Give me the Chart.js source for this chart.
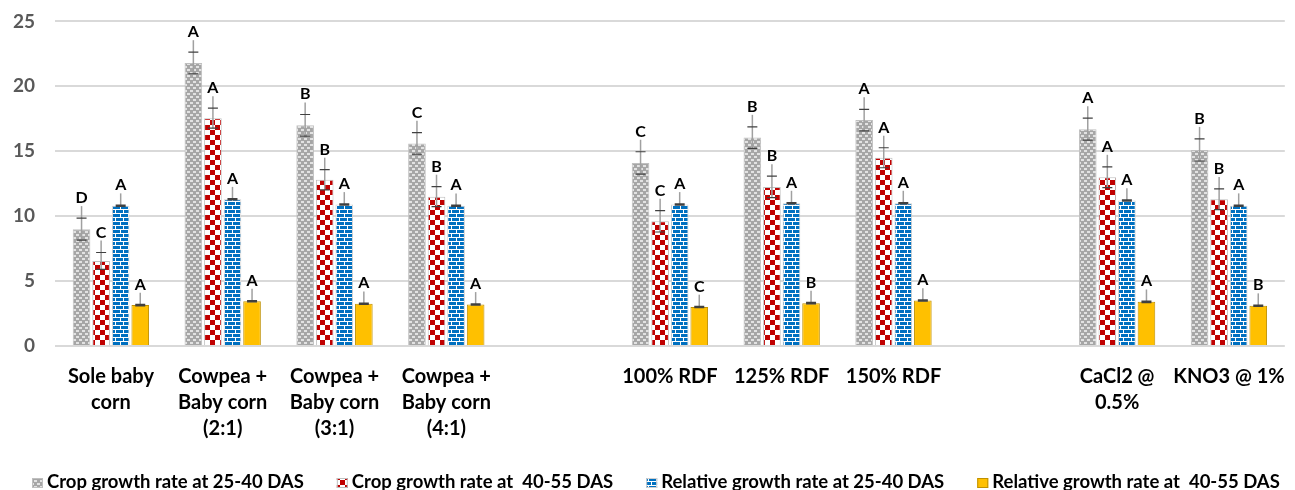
<!DOCTYPE html>
<html>
<head>
<meta charset="utf-8">
<script src="https://cdn.jsdelivr.net/npm/chart.js@4/dist/chart.umd.min.js"></script>
<style>
  html, body { margin: 0; padding: 0; background: #fff; overflow: hidden; }
  #wrap { width: 1295px; height: 490px; overflow: hidden; }
  #growthChart { display: block; margin-top: -10px; }
</style>
</head>
<body>
<div id="wrap"><canvas id="growthChart" width="1295" height="510"></canvas></div>
<script>
const categories = [
  ['Sole baby', 'corn'],
  ['Cowpea +', 'Baby corn', '(2:1)'],
  ['Cowpea +', 'Baby corn', '(3:1)'],
  ['Cowpea +', 'Baby corn', '(4:1)'],
  '',
  '100% RDF',
  '125% RDF',
  '150% RDF',
  '',
  ['CaCl2 @', '0.5%'],
  'KNO3 @ 1%',
];

const seriesNames = [
  'Crop growth rate at 25-40 DAS',
  'Crop growth rate at  40-55 DAS',
  'Relative growth rate at 25-40 DAS',
  'Relative growth rate at  40-55 DAS',
];

const cgrEarly = [9.0, 21.8, 17.0, 15.6, null, 14.1, 16.05, 17.4, null, 16.7, 15.1];
const cgrLate  = [6.55, 17.55, 12.8, 11.5, null, 9.6, 12.25, 14.5, null, 13.0, 11.3];
const rgrEarly = [10.8, 11.3, 10.9, 10.8, null, 10.9, 11.0, 11.0, null, 11.2, 10.8];
const rgrLate  = [3.15, 3.45, 3.25, 3.2, null, 3.0, 3.3, 3.5, null, 3.4, 3.1];

const cgrEarlyErr = [0.85, 0.83, 0.83, 0.83, null, 0.86, 0.83, 0.83, null, 0.85, 0.85];
const cgrLateErr  = [0.65, 0.77, 0.78, 0.77, null, 0.82, 0.83, 0.77, null, 0.8, 0.8];
const rgrEarlyErr = [0.03, 0.03, 0.03, 0.03, null, 0.03, 0.03, 0.03, null, 0.03, 0.03];
const rgrLateErr  = [0.03, 0.03, 0.03, 0.03, null, 0.03, 0.03, 0.03, null, 0.03, 0.03];

const cgrEarlyLetters = ['D', 'A', 'B', 'C', '', 'C', 'B', 'A', '', 'A', 'B'];
const cgrLateLetters  = ['C', 'A', 'B', 'B', '', 'C', 'B', 'A', '', 'A', 'B'];
const rgrEarlyLetters = ['A', 'A', 'A', 'A', '', 'A', 'A', 'A', '', 'A', 'A'];
const rgrLateLetters  = ['A', 'A', 'A', 'A', '', 'C', 'B', 'A', '', 'A', 'B'];

const yTicks = [0, 5, 10, 15, 20, 25];

const FONT = 'Lato, "Open Sans", sans-serif';
const canvas = document.getElementById('growthChart');
const ctx = canvas.getContext('2d');

function tilePattern(w, h, paint) {
  const t = document.createElement('canvas');
  t.width = w; t.height = h;
  paint(t.getContext('2d'));
  return ctx.createPattern(t, 'repeat');
}

// dotted grey
const greyFill = tilePattern(6, 6, g => {
  g.fillStyle = '#a6a6a6'; g.fillRect(0, 0, 6, 6);
  g.fillStyle = '#e2e2e2';
  g.fillRect(1, 1, 3, 2);
  g.fillRect(4, 4, 2, 2); g.fillRect(0, 4, 1, 2);
});
// red / white checkerboard
const checkFill = tilePattern(10, 10, g => {
  g.fillStyle = '#ffffff'; g.fillRect(0, 0, 10, 10);
  g.fillStyle = '#c00000';
  g.fillRect(0, 0, 5, 5); g.fillRect(5, 5, 5, 5);
});
// blue brick
const brickFill = tilePattern(8, 8, g => {
  g.fillStyle = '#ffffff'; g.fillRect(0, 0, 8, 8);
  g.fillStyle = '#0070c0';
  g.fillRect(1, 0, 7, 3);
  g.fillRect(0, 4, 3, 3); g.fillRect(4, 4, 4, 3);
});

const errors = [cgrEarlyErr, cgrLateErr, rgrEarlyErr, rgrLateErr];
const letters = [cgrEarlyLetters, cgrLateLetters, rgrEarlyLetters, rgrLateLetters];

// error bars, significance letters and their leader lines
const annotate = {
  id: 'annotate',
  afterDatasetsDraw(chart) {
    const g = chart.ctx;
    const y = chart.scales.y;
    chart.data.datasets.forEach((ds, i) => {
      const meta = chart.getDatasetMeta(i);
      meta.data.forEach((bar, j) => {
        const v = ds.data[j];
        if (v == null) return;
        const e = errors[i][j];
        const yTop = y.getPixelForValue(v + e);
        const yBot = y.getPixelForValue(v - e);
        const yLabel = yTop - 15;
        g.save();
        g.strokeStyle = '#a0a0a0';
        g.lineWidth = 1.5;
        g.beginPath();
        g.moveTo(bar.x, yLabel + 3);
        g.lineTo(bar.x, yBot);
        g.stroke();
        g.strokeStyle = '#404040';
        g.lineWidth = e > 0.1 ? 1.2 : 1.8;
        g.beginPath();
        g.moveTo(bar.x - 5, yTop); g.lineTo(bar.x + 5, yTop);
        g.moveTo(bar.x - 5, yBot); g.lineTo(bar.x + 5, yBot);
        g.stroke();
        g.fillStyle = '#000';
        g.font = 'bold 16px ' + FONT;
        g.textAlign = 'center';
        g.textBaseline = 'alphabetic';
        g.fillText(letters[i][j], bar.x, yLabel);
        g.restore();
      });
    });
  },
};

// single legend row along the bottom edge
const bottomLegend = {
  id: 'bottomLegend',
  afterDraw(chart) {
    const g = chart.ctx;
    const base = 498;
    let x = 32;
    g.save();
    g.font = 'bold 18.5px ' + FONT;
    g.textAlign = 'left';
    g.textBaseline = 'alphabetic';
    chart.data.datasets.forEach(ds => {
      g.fillStyle = ds.backgroundColor;
      g.fillRect(x, base - 10, 11, 10);
      g.strokeStyle = ds.borderColor;
      g.lineWidth = 1;
      g.strokeRect(x + 0.5, base - 9.5, 10, 9);
      g.fillStyle = '#000';
      g.fillText(ds.label, x + 15, base);
      x += 15 + g.measureText(ds.label).width + 33;
    });
    g.restore();
  },
};

new Chart(ctx, {
  type: 'bar',
  data: {
    labels: categories,
    datasets: [
      { label: seriesNames[0], data: cgrEarly, backgroundColor: greyFill, borderColor: '#bfbfbf', borderWidth: 1 },
      { label: seriesNames[1], data: cgrLate, backgroundColor: checkFill, borderColor: '#bfbfbf', borderWidth: 1 },
      { label: seriesNames[2], data: rgrEarly, backgroundColor: brickFill, borderColor: '#d0d0d0', borderWidth: 1 },
      { label: seriesNames[3], data: rgrLate, backgroundColor: '#ffc000', borderColor: '#bf9000', borderWidth: 1 },
    ],
  },
  options: {
    responsive: false,
    animation: false,
    devicePixelRatio: 1,
    categoryPercentage: 0.7,
    barPercentage: 0.9,
    layout: { padding: { top: 0, right: 8, left: 0, bottom: 48 } },
    plugins: {
      tooltip: { enabled: false },
      legend: { display: false },
    },
    scales: {
      x: {
        grid: { display: false },
        border: { display: false },
        ticks: {
          color: '#000', padding: 10, maxRotation: 0, autoSkip: false,
          font: { family: FONT, size: 20, weight: 'bold', lineHeight: 1.3 },
        },
      },
      y: {
        min: 0, max: 25,
        afterFit(scale) { scale.width = 55; },
        afterBuildTicks(scale) { scale.ticks = yTicks.map(v => ({ value: v })); },
        grid: { color: '#d9d9d9', lineWidth: 2, drawTicks: false },
        border: { display: false },
        ticks: {
          color: '#595959', padding: 20,
          font: { family: FONT, size: 19, weight: 'bold' },
        },
      },
    },
  },
  plugins: [annotate, bottomLegend],
});
</script>
</body>
</html>
